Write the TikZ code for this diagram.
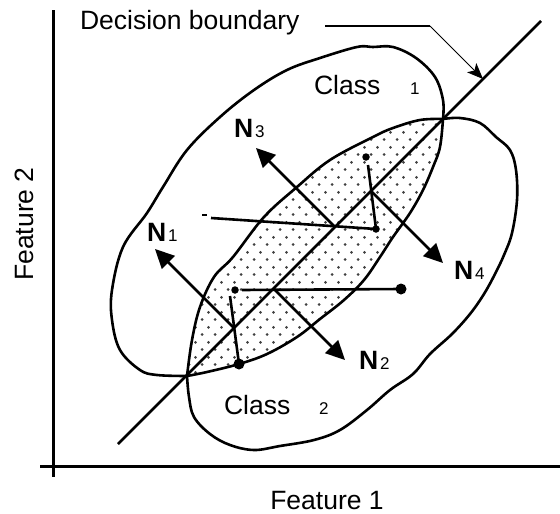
\documentclass[tikz,border=0pt]{standalone}
\usepackage{fontspec}
\setmainfont{Liberation Sans}
\usetikzlibrary{arrows.meta,patterns.meta}
\pgfdeclarepattern{
  name=sparsedots, type=uncolored,
  bottom left={\pgfpointorigin}, top right={\pgfpoint{13.3pt}{14.6pt}},
  tile size={\pgfpoint{13.3pt}{14.6pt}},
  code={\pgfpathcircle{\pgfpoint{3.3pt}{3.6pt}}{1.5pt}\pgfpathcircle{\pgfpoint{9.95pt}{10.9pt}}{1.5pt}\pgfusepath{fill}}
}
\begin{document}
\begin{tikzpicture}[x=1pt,y=-1pt,
  every node/.style={inner sep=0pt, outer sep=0pt},
  lbl/.style={font=\fontsize{26.5}{31}\selectfont, anchor=base west},
  sublbl/.style={font=\fontsize{17}{20}\selectfont, anchor=base west},
  contour/.style={line width=2.6pt, line join=round},
  axisline/.style={line width=3pt},
  normalarrow/.style={line width=2.8pt, -{Triangle[length=19pt,width=18pt]}},
  segline/.style={line width=2.6pt},
  dotsmall/.style={circle, fill, minimum size=7.5pt},
  dotbig/.style={circle, fill, minimum size=11pt},
]
\useasboundingbox (0,0) rectangle (560,514);

% key coordinates
\coordinate (A) at (187,376);
\coordinate (B) at (443,119);

% shaded intersection
\fill[pattern=sparsedots, pattern color=black!75]
  plot[smooth, tension=0.6] coordinates {(187,376) (207,372) (239,364) (267,354) (297,337) (320,319) (344,300) (364,280) (380,257) (393,237) (410,213) (423,190) (433,167) (440,147) (443,119)}
  -- plot[smooth, tension=0.6] coordinates {(443,119) (420,120) (393,128) (373,137) (330,160) (297,187) (264,217) (233,257) (214,277) (200,307) (192,340) (187,376)}
  -- cycle;

% Class 1 contour
\draw[contour]
  plot[smooth, tension=0.6] coordinates {(443,119) (443,100) (435,77) (416,58) (393,47) (373,47) (357,47) (320,58) (287,70) (254,90) (220,117) (187,150) (163,187) (147,213) (123,247) (112,290) (112,320) (120,350) (140,370) (157,375) (187,376)}
  -- plot[smooth, tension=0.6] coordinates {(187,376) (207,372) (239,364) (267,354) (297,337) (320,319) (344,300) (364,280) (380,257) (393,237) (410,213) (423,190) (433,167) (440,147) (443,119)};

% Class 2 contour
\draw[contour]
  plot[smooth, tension=0.6] coordinates {(187,376) (189,397) (194,417) (210,434) (230,445) (254,450) (280,446) (314,440) (340,430) (367,410) (390,390) (413,374) (430,354) (452,334) (470,314) (484,294) (495,274) (504,255) (512,233) (517,200) (516,170) (510,150) (496,137) (480,123) (460,118) (443,119)}
  -- plot[smooth, tension=0.6] coordinates {(443,119) (420,120) (393,128) (373,137) (330,160) (297,187) (264,217) (233,257) (214,277) (200,307) (192,340) (187,376)};

% axes
\coordinate (ytop) at (53,10);
\coordinate (ybot) at (53,477);
\coordinate (xl) at (40,466);
\coordinate (xr) at (560,466);
\draw[axisline] (ytop) -- (ybot);
\draw[axisline] (xl) -- (xr);

% decision boundary
\coordinate (dbl) at (118,444);
\coordinate (dbu) at (541,21);
\draw[contour] (dbl) -- (dbu);

% leader
\coordinate (lstart) at (325,26);
\coordinate (lbend) at (430,26);
\coordinate (ltip) at (483,79);
\draw[line width=2.6pt] (lstart) -- (lbend);
\draw[line width=0.8pt, -{Stealth[length=16pt,width=13pt,inset=4pt]}] (lbend) -- (ltip);

% dots
\node[dotsmall] (d1) at (366,157) {};
\node[dotsmall] (d2) at (376,229) {};
\node[dotsmall] (d3) at (235,290) {};
\node[dotbig] (d4) at (401,289) {};
\node[dotbig] (d5) at (239,364) {};

% segments
\coordinate (m1) at (202,215);
\coordinate (m2) at (207,215);
\draw[line width=2.4pt] (m1) -- (m2);
\coordinate (s1) at (211,218);
\draw[segline] (s1) -- (d2.center);
\coordinate (s2) at (368,165);
\draw[segline] (s2) -- (d2.center);
\coordinate (s3) at (242,290);
\draw[segline] (s3) -- (d4.center);
\coordinate (s4) at (230,296);
\draw[segline] (s4) -- (d5.center);

% normal arrows
\coordinate (a3s) at (335,227); \coordinate (a3t) at (256,148);
\coordinate (a4s) at (371,191); \coordinate (a4t) at (443,263);
\coordinate (a1s) at (234,328); \coordinate (a1t) at (155,249);
\coordinate (a2s) at (274,289); \coordinate (a2t) at (345,360);
\draw[normalarrow] (a3s) -- (a3t);
\draw[normalarrow] (a4s) -- (a4t);
\draw[normalarrow] (a1s) -- (a1t);
\draw[normalarrow] (a2s) -- (a2t);

% labels
\node[lbl] (dec) at (80,30) {Decision boundary};
\node[lbl, anchor=base] (f1) at (327,509) {Feature 1};
\node[lbl, anchor=base, rotate=90] (f2) at (33,224) {Feature 2};
\node[lbl] (c1) at (314,94) {Class};
\node[sublbl] (c1n) at (410,94) {1};
\node[lbl] (c2) at (224,414) {Class};
\node[sublbl] (c2n) at (319,414) {2};
\node[lbl] (n1) at (147,241) {\textbf{N}\hspace{2pt}{\fontsize{17}{20}\selectfont 1}};
\node[lbl] (n3) at (234,137) {\textbf{N}\hspace{2pt}{\fontsize{17}{20}\selectfont 3}};
\node[lbl] (n4) at (454,279) {\textbf{N}\hspace{2pt}{\fontsize{17}{20}\selectfont 4}};
\node[lbl] (n2) at (359,369) {\textbf{N}\hspace{2pt}{\fontsize{17}{20}\selectfont 2}};
\end{tikzpicture}
\end{document}
